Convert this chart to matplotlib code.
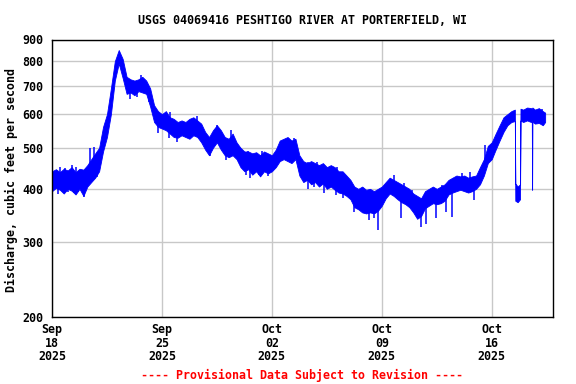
import matplotlib
matplotlib.use("Agg")
import matplotlib.pyplot as plt
import numpy as np
from matplotlib.ticker import FixedLocator, FixedFormatter, NullLocator

# Days since 2025-09-18 00:00
days = [0, 0.25, 0.5, 0.75, 1.0, 1.25, 1.5, 1.75, 2.0, 2.25, 2.5, 2.75, 3.0, 3.25, 3.5, 3.75,
        4.0, 4.25, 4.5, 4.75, 5.0, 5.25, 5.5, 5.75, 6.0, 6.25, 6.5, 6.75, 7.0, 7.25, 7.5, 7.75,
        8.0, 8.25, 8.5, 8.75, 9.0, 9.25, 9.5, 9.75, 10.0, 10.25, 10.5, 10.75, 11.0, 11.25, 11.5, 11.75,
        12.0, 12.25, 12.5, 12.75, 13.0, 13.25, 13.5, 13.75, 14.0, 14.25, 14.5, 14.75, 15.0, 15.25, 15.5, 15.75,
        16.0, 16.25, 16.5, 16.75, 17.0, 17.25, 17.5, 17.75, 18.0, 18.25, 18.5, 18.75, 19.0, 19.25, 19.5, 19.75,
        20.0, 20.25, 20.5, 20.75, 21.0, 21.25, 21.5, 21.75, 22.0, 22.25, 22.5, 22.75, 23.0, 23.25, 23.5, 23.75,
        24.0, 24.25, 24.5, 24.75, 25.0, 25.25, 25.5, 25.75, 26.0, 26.25, 26.5, 26.75, 27.0, 27.25, 27.5, 27.75,
        28.0, 28.25, 28.5, 28.75, 29.0, 29.25,
        29.47, 29.5, 29.65, 29.8, 29.83, 30.0, 30.25, 30.5, 30.55, 30.57, 30.59, 30.75, 31.0, 31.25, 31.4]

# Lower / upper edge of the discharge band (cfs)
q_low = [395, 402, 398, 390, 400, 396, 388, 400, 385, 405, 415, 425, 440, 490, 530, 600,
         720, 790, 730, 670, 675, 665, 680, 675, 670, 625, 575, 560, 555, 550, 540, 530,
         528, 535, 530, 525, 535, 530, 515, 495, 480, 500, 515, 495, 480, 475, 480, 470,
         450, 440, 445, 432, 440, 428, 440, 435, 440, 450, 465, 470, 465, 460, 470, 430,
         415, 420, 410, 415, 405, 412, 400, 405, 398, 392, 390, 385, 378, 362, 358, 352,
         350, 352, 350, 355, 365, 380, 390, 385, 378, 372, 368, 362, 352, 340, 345, 360,
         365, 370, 368, 370, 375, 388, 392, 395, 398, 395, 392, 395, 400, 410, 430, 460,
         470, 495, 520, 545, 565, 575,
         578, 375, 372, 378, 580, 575, 580, 575, 578, 398, 576, 570, 572, 565, 575]
q_high = [440, 445, 438, 446, 442, 450, 438, 446, 444, 455, 470, 485, 500, 560, 600, 690,
          800, 850, 810, 735, 725, 720, 725, 735, 720, 690, 630, 610, 600, 610, 590, 585,
          575, 580, 575, 585, 590, 580, 570, 545, 530, 550, 565, 550, 530, 525, 540, 515,
          500, 490, 490, 485, 488, 480, 490, 485, 480, 495, 520, 525, 530, 520, 525, 480,
          465, 460, 465, 460, 455, 460, 450, 455, 450, 440, 440, 430, 420, 405, 400, 405,
          398, 400, 395, 400, 405, 415, 425, 420, 415, 410, 405, 400, 390, 385, 380, 395,
          400, 405, 400, 405, 410, 420, 425, 430, 428, 430, 425, 428, 430, 450, 470, 505,
          515, 540, 565, 590, 600, 610,
          615, 412, 405, 410, 618, 615, 622, 620, 618, 620, 622, 615, 620, 610, 605]

# Individual short-lived excursions beyond the band (day, cfs)
spike_days = [0.40, 1.04, 1.40, 1.68, 2.06, 0.51, 1.25, 1.53, 0.83, 2.42, 2.70, 2.32, 2.85,
              4.97, 5.44, 5.65, 5.88, 6.20,
              6.75, 7.43, 7.98, 10.04, 11.10, 12.38, 7.50, 9.25, 8.83, 10.50, 11.42,
              12.60, 13.20, 13.74, 16.30, 16.70, 17.30, 18.10, 18.55,
              12.46, 13.37, 14.48, 15.00, 15.44, 16.32, 16.90, 18.12,
              19.20, 20.20, 20.76, 20.50, 22.20, 23.50, 23.80, 24.44,
              21.78, 21.50, 22.40, 22.95, 24.86,
              25.10, 25.48, 26.86, 26.64, 26.10, 27.60, 31.17]
spike_vals = [389, 394, 391, 394, 383, 451, 455, 451, 447, 499, 502, 408, 427,
              651, 658, 742, 725, 642,
              541, 527, 517, 478, 468, 431, 608, 594, 576, 566, 551,
              424, 431, 429, 400, 405, 391, 387, 380,
              491, 490, 503, 520, 527, 464, 464, 451,
              353, 338, 320, 341, 341, 326, 330, 341,
              431, 420, 412, 398, 408,
              353, 344, 377, 439, 435, 508, 617]

y_ticks = [200, 300, 400, 500, 600, 700, 800, 900]
x_ticks = [0, 7, 14, 21, 28]
x_labels = ["Sep\n18\n2025", "Sep\n25\n2025", "Oct\n02\n2025", "Oct\n09\n2025", "Oct\n16\n2025"]

title = "USGS 04069416 PESHTIGO RIVER AT PORTERFIELD, WI"
ylabel = "Discharge, cubic feet per second"
footer = "---- Provisional Data Subject to Revision ----"

blue = "#0000ff"
mono = "DejaVu Sans Mono"
fig = plt.figure(figsize=(5.76, 3.84), dpi=100)
ax = fig.add_axes([52 / 576, 1 - 316.5 / 384, 501 / 576, 277 / 384])

ax.fill_between(days, q_low, q_high, color=blue, linewidth=0.6, edgecolor=blue)
band_mid = np.sqrt(np.interp(spike_days, days, q_low) * np.interp(spike_days, days, q_high))
ax.vlines(spike_days, np.minimum(spike_vals, band_mid), np.maximum(spike_vals, band_mid),
          color=blue, linewidth=1.1)

ax.set_yscale("log")
ax.set_ylim(200, 900)
ax.set_xlim(0, 31.9)
ax.yaxis.set_major_locator(FixedLocator(y_ticks))
ax.yaxis.set_major_formatter(FixedFormatter([str(v) for v in y_ticks]))
ax.yaxis.set_minor_locator(NullLocator())
ax.xaxis.set_major_locator(FixedLocator(x_ticks))
ax.xaxis.set_major_formatter(FixedFormatter(x_labels))
ax.xaxis.set_minor_locator(NullLocator())

ax.grid(True, color="#c8c8c8", linewidth=1.0)
ax.set_axisbelow(True)
for s in ax.spines.values():
    s.set_linewidth(1.0)
    s.set_color("black")

ax.tick_params(axis="both", length=0)
ax.tick_params(axis="y", pad=6.5)
ax.tick_params(axis="x", pad=5)
for lab in ax.get_yticklabels():
    lab.set_fontfamily(mono); lab.set_fontweight("bold"); lab.set_fontsize(8.4)
for lab in ax.get_xticklabels():
    lab.set_fontfamily(mono); lab.set_fontweight("bold"); lab.set_fontsize(8.4)
    lab.set_linespacing(1.05)

fig.text(11 / 576, 1 - 180 / 384, ylabel, rotation=90, ha="center", va="center",
         fontfamily=mono, fontweight="bold", fontsize=8.4)
fig.text(302 / 576, 1 - 20 / 384, title, ha="center", va="center",
         fontfamily=mono, fontweight="bold", fontsize=8.4)
fig.text(302 / 576, 1 - 375 / 384, footer, ha="center", va="center",
         fontfamily=mono, fontweight="bold", fontsize=8.4, color="#ff0000")

fig.savefig("out.png", dpi=100)
